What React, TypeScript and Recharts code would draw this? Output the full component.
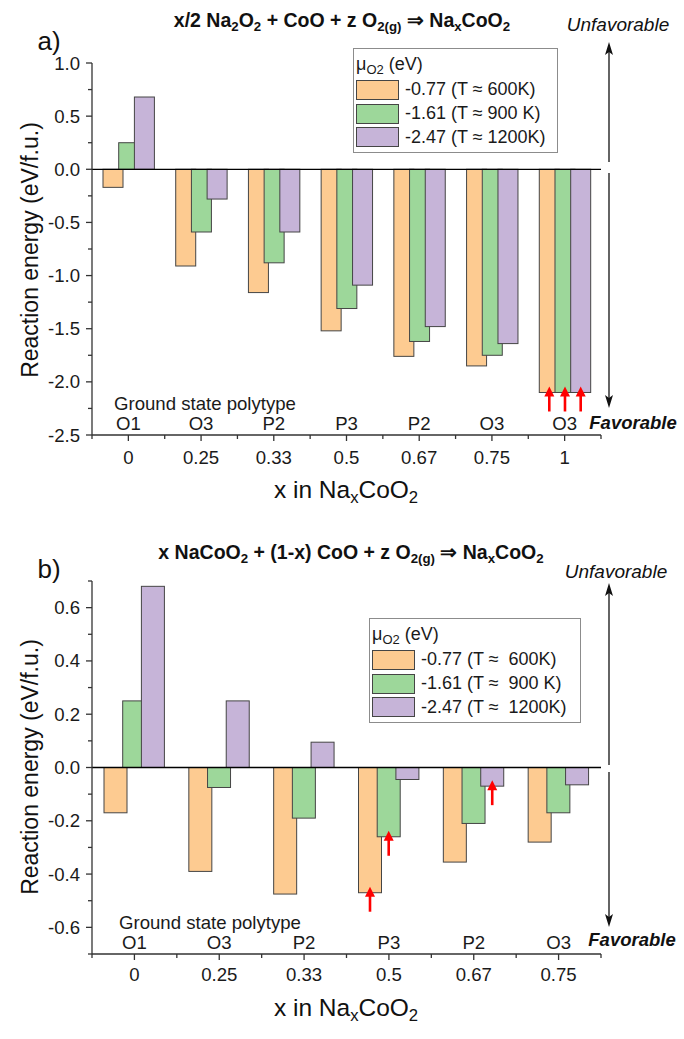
import { BarChart, Bar, XAxis, YAxis, ReferenceLine, Legend } from "recharts";

const FONT = '"Liberation Sans", Arial, Helvetica, sans-serif';

// panel a) x/2 Na2O2 + CoO + z O2(g) => NaxCoO2
const xA = ["0", "0.25", "0.33", "0.5", "0.67", "0.75", "1"];
const polyA = ["O1", "O3", "P2", "P3", "P2", "O3", "O3"];
const e600A = [-0.17, -0.91, -1.16, -1.52, -1.76, -1.85, -2.1];
const e900A = [0.25, -0.59, -0.88, -1.31, -1.62, -1.75, -2.1];
const e1200A = [0.68, -0.28, -0.59, -1.09, -1.48, -1.64, -2.1];
const yMajorA = [-2.5, -2, -1.5, -1, -0.5, 0, 0.5, 1];
const yMinorA = [-2.25, -1.75, -1.25, -0.75, -0.25, 0.25, 0.75];
const arrowsA = [["1", "e600"], ["1", "e900"], ["1", "e1200"]];
const legendA = ["-0.77 (T \u2248 600K)", "-1.61 (T \u2248 900 K)", "-2.47 (T \u2248 1200K)"];

// panel b) x NaCoO2 + (1-x) CoO + z O2(g) => NaxCoO2
const xB = ["0", "0.25", "0.33", "0.5", "0.67", "0.75"];
const polyB = ["O1", "O3", "P2", "P3", "P2", "O3"];
const e600B = [-0.17, -0.39, -0.475, -0.47, -0.355, -0.28];
const e900B = [0.25, -0.075, -0.19, -0.26, -0.21, -0.17];
const e1200B = [0.68, 0.25, 0.095, -0.045, -0.07, -0.065];
const yMajorB = [-0.6, -0.4, -0.2, 0, 0.2, 0.4, 0.6];
const yMinorB = [-0.7, -0.5, -0.3, -0.1, 0.1, 0.3, 0.5, 0.7];
const arrowsB = [["0.5", "e600"], ["0.5", "e900"], ["0.67", "e1200"]];
const legendB = ["-0.77 (T \u2248  600K)", "-1.61 (T \u2248  900 K)", "-2.47 (T \u2248  1200K)"];

const KEYS = ["e600", "e900", "e1200"];
const COLORS: Record<string, string> = { e600: "#FDCB91", e900: "#9DD79A", e1200: "#C6B4D8" };

const W = 684;
const LEFT = 92;
const RIGHT = 83;
const PLOT_W = W - LEFT - RIGHT;
const Y_AXIS_W = 60;
const X_AXIS_H = 40;
const TICK_FS = 18.6;

const makeShape = (key: string, arrows: string[][]) => (props: any) => {
  const { x, y, width, height, payload } = props;
  const top = Math.min(y, y + height);
  const h = Math.abs(height);
  const bottom = top + h;
  const cx = x + width / 2;
  const marked = arrows.some(([c, k]) => c === payload.x && k === key);
  return (
    <g>
      <rect x={x} y={top} width={width} height={h} fill={COLORS[key]} stroke="#454545" strokeWidth={1} />
      {marked && (
        <g>
          <line x1={cx} x2={cx} y1={bottom + 19} y2={bottom + 2} stroke="#ff0000" strokeWidth={2.6} />
          <polygon points={`${cx - 5},${bottom + 4} ${cx + 5},${bottom + 4} ${cx},${bottom - 6}`} fill="#ff0000" />
        </g>
      )}
    </g>
  );
};

const YTick = ({ x, y, payload, major }: any) => {
  const isMajor = major.some((v: number) => Math.abs(v - payload.value) < 1e-6);
  return (
    <g>
      <line x1={x} x2={x - (isMajor ? 6 : 4)} y1={y} y2={y} stroke="#333" strokeWidth={1.3} />
      {isMajor && (
        <text x={x - 12} y={y} textAnchor="end" dominantBaseline="central" fontSize={TICK_FS} fill="#1a1a1a" fontFamily={FONT}>
          {payload.value.toFixed(1)}
        </text>
      )}
    </g>
  );
};

const XTick = ({ x, y, payload, index, n, poly, groundDx, labelDy }: any) => {
  const band = PLOT_W / n;
  return (
    <g fontFamily={FONT} fill="#1a1a1a">
      <line x1={x} x2={x} y1={y} y2={y + 6} stroke="#333" strokeWidth={1.3} />
      <line x1={x - band / 2} x2={x - band / 2} y1={y} y2={y + 4} stroke="#333" strokeWidth={1.3} />
      {index === n - 1 && <line x1={x + band / 2} x2={x + band / 2} y1={y} y2={y + 4} stroke="#333" strokeWidth={1.3} />}
      <text x={x} y={y + labelDy} textAnchor="middle" dominantBaseline="central" fontSize={TICK_FS}>
        {payload.value}
      </text>
      <text x={x} y={y - 12} textAnchor="middle" dominantBaseline="central" fontSize={TICK_FS}>
        {poly[index]}
      </text>
      {index === 0 && (
        <text x={x - band / 2 + groundDx} y={y - 32} dominantBaseline="central" fontSize={TICK_FS}>
          Ground state polytype
        </text>
      )}
    </g>
  );
};

const LegendBox = ({ labels, width }: any) => (
  <div
    style={{
      border: "1px solid #8c8c8c",
      background: "#fff",
      padding: "1px 4px 3px 2px",
      fontFamily: FONT,
      color: "#1a1a1a",
      width,
      boxSizing: "border-box",
    }}
  >
    <div style={{ fontSize: 18, height: 28, lineHeight: "28px" }}>
      {"\u03bc"}
      <span style={{ fontSize: 13, position: "relative", top: 4 }}>O2</span> (eV)
    </div>
    {KEYS.map((k, i) => (
      <div key={k} style={{ display: "flex", alignItems: "center", height: 23.7 }}>
        <span style={{ width: 43, height: 20, background: COLORS[k], border: "1px solid #454545", boxSizing: "border-box" }} />
        <span style={{ marginLeft: 6, fontSize: 18, whiteSpace: "pre" }}>{labels[i]}</span>
      </div>
    ))}
  </div>
);

const Panel = (p: any) => {
  const data = p.cats.map((x: string, i: number) => ({ x, e600: p.s600[i], e900: p.s900[i], e1200: p.s1200[i] }));
  return (
    <div style={{ position: "absolute", left: 0, top: p.top }}>
      <BarChart
        width={W}
        height={p.height}
        data={data}
        margin={{ top: p.mTop, right: RIGHT, bottom: p.mBottom - X_AXIS_H, left: LEFT - Y_AXIS_W }}
        barSize={p.barSize}
        barGap={p.barGap}
      >
        <XAxis
          dataKey="x"
          height={X_AXIS_H}
          tickSize={0}
          tickMargin={0}
          interval={0}
          axisLine={{ stroke: "#333", strokeWidth: 1.3 }}
          tickLine={false}
          tick={(t: any) => <XTick {...t} n={p.cats.length} poly={p.poly} groundDx={p.groundDx} labelDy={p.labelDy} />}
        />
        <YAxis
          type="number"
          width={Y_AXIS_W}
          domain={p.domain}
          ticks={[...p.yMinor, ...p.yMajor]}
          interval={0}
          tickSize={0}
          tickMargin={0}
          axisLine={{ stroke: "#333", strokeWidth: 1.3 }}
          tickLine={false}
          tick={(t: any) => <YTick {...t} major={p.yMajor} />}
        />
        {KEYS.map((k) => (
          <Bar key={k} dataKey={k} isAnimationActive={false} shape={makeShape(k, p.arrows)} />
        ))}
        <ReferenceLine y={0} stroke="#000" strokeWidth={1.3} />
        <Legend
          layout="horizontal"
          verticalAlign="middle"
          align="center"
          wrapperStyle={{ left: p.legLeft, top: p.legTop, width: p.legWidth }}
          content={() => <LegendBox labels={p.legend} width={p.legWidth} />}
        />
      </BarChart>
    </div>
  );
};

const sub = (t: string) => (
  <span style={{ fontSize: "0.68em", position: "relative", top: "0.3em" }}>{t}</span>
);

const center = (cx: number, cy: number, extra: any = {}): any => ({
  position: "absolute",
  left: cx,
  top: cy,
  transform: "translate(-50%, -50%)",
  whiteSpace: "nowrap",
  lineHeight: 1,
  fontFamily: FONT,
  color: "#111",
  ...extra,
});

const Arrow = ({ from, to }: { from: number; to: number }) => {
  const dir = to < from ? -1 : 1;
  const x = 609;
  return (
    <g>
      <line x1={x} x2={x} y1={from} y2={to - dir * 8} stroke="#111" strokeWidth={1.3} />
      <polygon points={`${x},${to} ${x - 4},${to - dir * 13} ${x},${to - dir * 10} ${x + 4},${to - dir * 13}`} fill="#111" />
    </g>
  );
};

export default function App() {
  return (
    <div style={{ position: "absolute", left: 0, top: 0, width: W, height: 1039, background: "#fff", overflow: "hidden" }}>
      <Panel
        top={0}
        height={510}
        mTop={63}
        mBottom={75}
        cats={xA}
        poly={polyA}
        s600={e600A}
        s900={e900A}
        s1200={e1200A}
        domain={[-2.5, 1]}
        yMajor={yMajorA}
        yMinor={yMinorA}
        arrows={arrowsA}
        barSize={20}
        barGap={-4.3}
        groundDx={22}
        labelDy={22}
        legend={legendA}
        legLeft={353}
        legTop={48}
        legWidth={205}
      />
      <Panel
        top={510}
        height={529}
        mTop={71}
        mBottom={85}
        cats={xB}
        poly={polyB}
        s600={e600B}
        s900={e900B}
        s1200={e1200B}
        domain={[-0.7, 0.7]}
        yMajor={yMajorB}
        yMinor={yMinorB}
        arrows={arrowsB}
        barSize={23}
        barGap={-4.3}
        groundDx={27}
        labelDy={20}
        legend={legendB}
        legLeft={369}
        legTop={108}
        legWidth={212}
      />

      <svg width={W} height={1039} style={{ position: "absolute", left: 0, top: 0, pointerEvents: "none" }}>
        <Arrow from={162} to={42} />
        <Arrow from={173} to={408} />
        <Arrow from={765} to={583} />
        <Arrow from={772} to={927} />
      </svg>

      <div style={center(49, 41, { fontSize: 26 })}>a)</div>
      <div style={center(49, 569, { fontSize: 26 })}>b)</div>

      <div style={center(342, 21, { fontSize: 19.5, fontWeight: "bold" })}>
        x/2 Na{sub("2")}O{sub("2")} + CoO + z O{sub("2(g)")} {"\u21d2"} Na{sub("x")}CoO{sub("2")}
      </div>
      <div style={center(351, 553, { fontSize: 19.5, fontWeight: "bold" })}>
        x NaCoO{sub("2")} + (1-x) CoO + z O{sub("2(g)")} {"\u21d2"} Na{sub("x")}CoO{sub("2")}
      </div>

      <div style={center(618, 24, { fontSize: 19, fontStyle: "italic" })}>Unfavorable</div>
      <div style={center(633, 423, { fontSize: 18.5, fontStyle: "italic", fontWeight: "bold" })}>Favorable</div>
      <div style={center(616, 571, { fontSize: 19, fontStyle: "italic" })}>Unfavorable</div>
      <div style={center(632, 940, { fontSize: 18.5, fontStyle: "italic", fontWeight: "bold" })}>Favorable</div>

      <div style={center(30, 250, { fontSize: 23, transform: "translate(-50%, -50%) rotate(-90deg)" })}>
        Reaction energy (eV/f.u.)
      </div>
      <div style={center(30, 767, { fontSize: 23, transform: "translate(-50%, -50%) rotate(-90deg)" })}>
        Reaction energy (eV/f.u.)
      </div>

      <div style={center(346, 490, { fontSize: 24.5 })}>
        x in Na{sub("x")}CoO{sub("2")}
      </div>
      <div style={center(346, 1008, { fontSize: 24.5 })}>
        x in Na{sub("x")}CoO{sub("2")}
      </div>
    </div>
  );
}
